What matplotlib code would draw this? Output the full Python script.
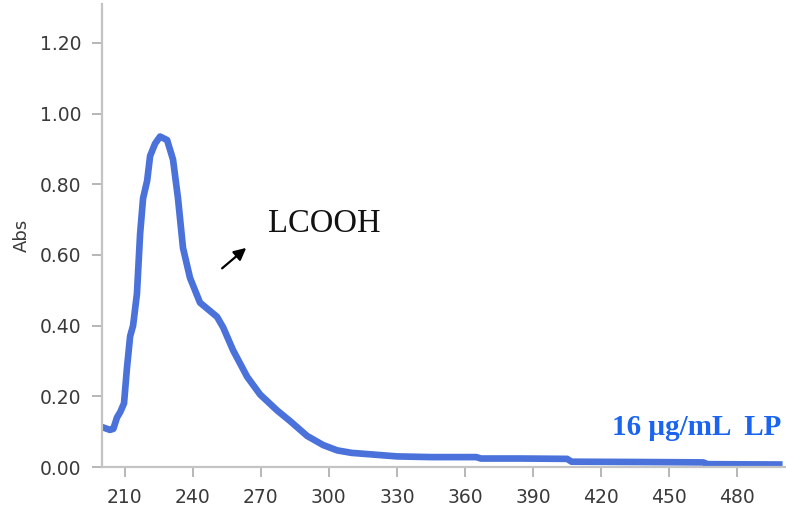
import matplotlib
matplotlib.use("Agg")
import matplotlib.pyplot as plt

# Data
wavelength = [200, 203.5, 205, 206.6, 208, 209.7, 211, 212.4, 213.7, 215.4, 216.8,
              218.1, 219.9, 221.2, 223.4, 225.6, 228.7, 231.3, 233.5, 235.7, 238.8,
              243.2, 250.7, 253.4, 257.8, 264, 269.7, 277.2, 282.9, 290.4, 297.5,
              303.7, 310, 320, 330, 345, 365, 367, 385, 405, 407, 440, 465, 467, 500]
absorbance = [0.113, 0.105, 0.108, 0.14, 0.155, 0.18, 0.28, 0.37, 0.40, 0.49, 0.66,
              0.76, 0.81, 0.88, 0.915, 0.935, 0.925, 0.87, 0.76, 0.62, 0.535,
              0.465, 0.425, 0.395, 0.33, 0.255, 0.205, 0.16, 0.13, 0.088, 0.062,
              0.047, 0.04, 0.035, 0.03, 0.028, 0.028, 0.024, 0.024, 0.023, 0.015, 0.014, 0.013, 0.008, 0.007]

x_ticks = [210, 240, 270, 300, 330, 360, 390, 420, 450, 480]
y_ticks = [0.0, 0.2, 0.4, 0.6, 0.8, 1.0, 1.2]
y_ticklabels = ["0.00", "0.20", "0.40", "0.60", "0.80", "1.00", "1.20"]

fig = plt.figure(figsize=(7.86, 5.11), dpi=100)
ax = fig.add_axes([102/786, 1 - 467/511, (786 - 102)/786, (467 - 4)/511])

ax.plot(wavelength, absorbance, color="#4a72da", lw=4.8, solid_capstyle="butt",
        solid_joinstyle="round")

ax.set_xlim(200, 501.5)
ax.set_ylim(0, 1.31)
ax.set_xticks(x_ticks)
ax.set_yticks(y_ticks)
ax.set_yticklabels(y_ticklabels)

for s in ["top", "right"]:
    ax.spines[s].set_visible(False)
for s in ["left", "bottom"]:
    ax.spines[s].set_color("#c4c4c4")
    ax.spines[s].set_linewidth(1.6)

ax.tick_params(axis="both", direction="out", length=7, width=1.2, color="#aaaaaa",
               labelsize=13.5, labelcolor="#3a3a3a", pad=8)
for lab in ax.get_xticklabels() + ax.get_yticklabels():
    lab.set_family(["DejaVu Sans"])

ax.set_ylabel("Abs", fontsize=13, color="#3a3a3a", family=["DejaVu Sans"], labelpad=6)

ax.text(273, 0.666, "LCOOH", fontsize=23.5, family=["Liberation Serif"], color="#111111")
ax.annotate("", xy=(264.5, 0.625), xytext=(252, 0.557),
            arrowprops=dict(arrowstyle="-|>", color="black", lw=1.6, mutation_scale=18))

ax.text(499.5, 0.09, "16 \u00b5g/mL  LP", fontsize=21, family=["Liberation Serif"],
        fontweight="bold", color="#1a64f0", ha="right", va="baseline")

fig.savefig("out.png", dpi=100)
